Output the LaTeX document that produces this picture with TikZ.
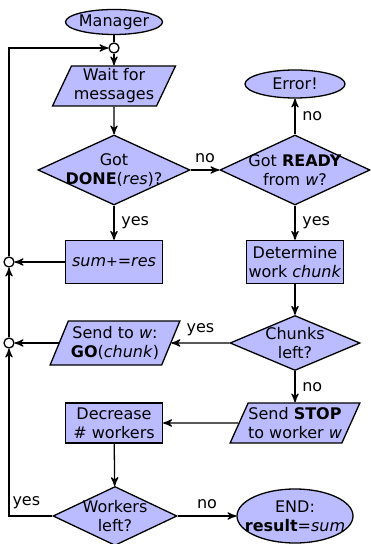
\documentclass[tikz,border=0pt]{standalone}
\usepackage{fontspec}
\setmainfont{DejaVu Sans}
\usetikzlibrary{arrows,shapes.geometric}
\definecolor{xlilac}{RGB}{187,187,255}

\begin{document}
\begin{tikzpicture}[->,>=stealth',x=0.5pt,y=-0.5pt,line width=0.65pt,
  every node/.style={font=\fontsize{8}{9.5}\selectfont,align=center}]
% shapes keep the given size, text may spill over the border
\tikzset{term/.style={ellipse,fill=xlilac,draw,inner sep=-12pt}}
\tikzset{proc/.style={rectangle,fill=xlilac,draw,inner sep=0pt,minimum width=48.5pt}}
\tikzset{io/.style={trapezium,trapezium left angle=118,trapezium right angle=62,
  trapezium stretches=true,fill=xlilac,draw,inner sep=-12pt}}
\tikzset{test/.style={diamond,fill=xlilac,draw,inner sep=-12pt}}
\tikzset{junc/.style={circle,fill=white,draw,inner sep=0pt,minimum size=5pt}}
\useasboundingbox (0,0) rectangle (370,544);
\node[term,minimum width=48.5pt,minimum height=12.5pt] at (114,22) (mgr) {Manager};
\node[junc] at (114,48) (join) {};
\node[io,minimum width=61.5pt,minimum height=20pt] at (114,86) (wait) {Wait for\\messages};
\node[test,minimum width=76pt,minimum height=35pt] at (114,170) (done) {Got\\\textbf{DONE}(\textit{res})?};
\node[test,minimum width=75pt,minimum height=35pt] at (295,170) (ready) {Got \textbf{READY}\\from \textit{w}?};
\node[term,minimum width=50pt,minimum height=14pt] at (295,84) (err) {Error!};
\node[proc,minimum height=21.5pt] at (114,262) (sum) {\textit{sum}{\scriptsize+}=\textit{res}};
\node[proc,minimum height=21.5pt] at (295,262) (chunk) {Determine\\work \textit{chunk}};
\node[junc] at (9,262) (c1) {};
\node[junc] at (9,343) (c2) {};
\node[test,minimum width=65pt,minimum height=27.5pt] at (295,343) (left) {Chunks\\left?};
\node[io,minimum width=65pt,minimum height=22pt] at (115,343) (go) {Send to \textit{w}:\\\textbf{GO}(\textit{chunk})};
\node[io,minimum width=65pt,minimum height=20pt] at (295,423) (stop) {Send \textbf{STOP}\\to worker \textit{w}};
\node[proc,minimum height=20pt] at (114,423) (dec) {Decrease\\\# workers};
\node[test,minimum width=62pt,minimum height=29.5pt] at (115,516) (wleft) {Workers\\left?};
\node[term,minimum width=58pt,minimum height=27pt] at (295,516) (fin) {END:\\\textbf{result}=\textit{sum}};
\draw[-] (mgr) -- (join);
\draw (join) -- (wait);
\draw (wait) -- (done);
\draw (done) -- node[above]{no} (ready);
\draw (ready) -- node[right]{no} (err);
\draw (done) -- node[right]{yes} (sum);
\draw (ready) -- node[right]{yes} (chunk);
\draw (sum) -- (c1);
\draw (chunk) -- (left);
\draw (left) -- node[above]{yes} (go);
\draw (go) -- (c2);
\draw (left) -- node[right]{no} (stop);
\draw (stop) -- (dec);
\draw (dec) -- (wleft);
\draw (wleft) -- node[above]{no} (fin);
\draw (wleft.west) -| node[pos=0.3,above]{yes} (c2);
\draw (c2) -- (c1);
\draw (c1) |- (join);
\end{tikzpicture}
\end{document}
